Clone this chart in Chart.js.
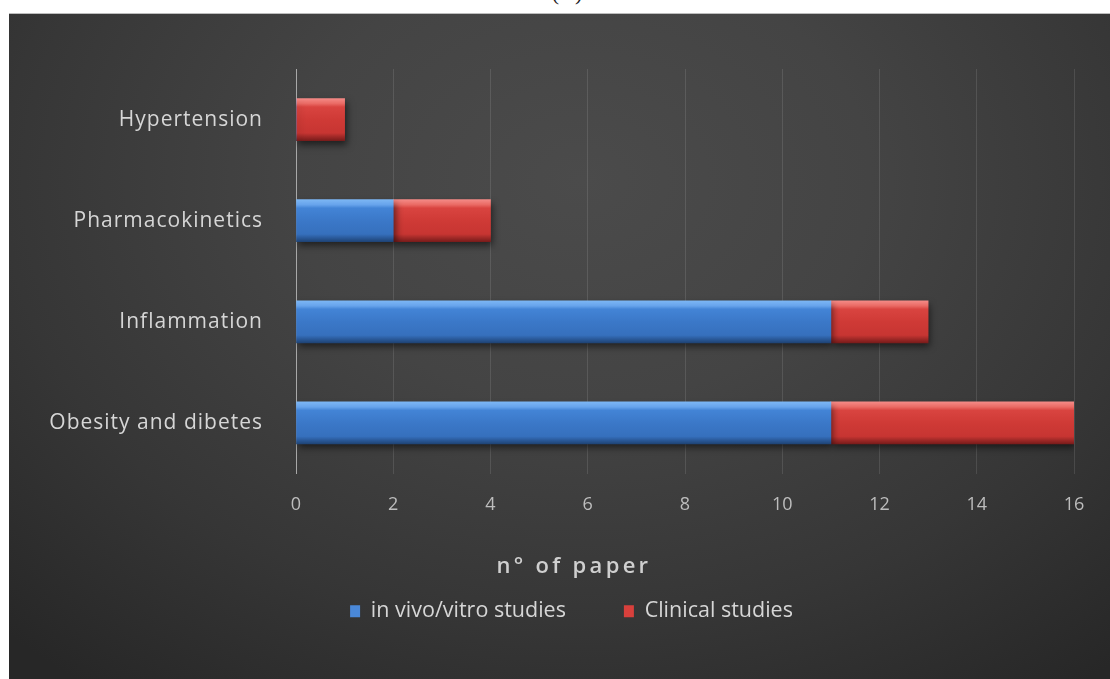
<!DOCTYPE html>
<html>
<head>
<meta charset="utf-8">
<script src="https://cdn.jsdelivr.net/npm/chart.js@4.4.1/dist/chart.umd.min.js"></script>
<style>
  html, body { margin: 0; padding: 0; background: #ffffff; }
  body { width: 1110px; height: 679px; position: relative; overflow: hidden; }
  #tag {
    position: absolute; left: 545px; top: -18px; width: 44px; text-align: center;
    font-family: "Liberation Serif", serif; font-size: 22px; line-height: 22px; color: #222;
  }
  #panel {
    position: absolute; left: 9px; top: 13px; width: 1101px; height: 666px;
    border-top: 1px solid #bdbdbd; box-sizing: border-box;
    background: radial-gradient(ellipse 75% 95% at 52% 25%, #4b4b4b 0%, #444444 35%, #363636 70%, #272727 100%);
  }
  #chart { position: absolute; left: 0; top: 0; }
</style>
</head>
<body>
<div id="tag">(A)</div>
<div id="panel"><canvas id="chart" width="1101" height="665"></canvas></div>
<script>
// Topics, top to bottom
const categories = ["Hypertension", "Pharmacokinetics", "Inflammation", "Obesity and dibetes"];
// Number of papers per topic
const inVivoVitro = [0, 2, 11, 11];
const clinical = [1, 2, 2, 5];
const xTicks = { min: 0, max: 16, step: 2 };
const seriesNames = ["in vivo/vitro studies", "Clinical studies"];
const swatchColors = ['#4a88d8', '#d8403c'];

const BAR_THICKNESS = 42;

// Bevelled fill: light top edge, flat body, dark bottom edge
function bevel(flat, stops) {
  return function (ctx) {
    const chart = ctx.chart;
    if (ctx.type !== 'data' || !chart.chartArea || !chart.scales.y) return flat;
    const yc = chart.scales.y.getPixelForValue(ctx.dataIndex);
    const top = yc - BAR_THICKNESS / 2, bottom = yc + BAR_THICKNESS / 2;
    const g = chart.ctx.createLinearGradient(0, top, 0, bottom);
    stops.forEach(s => g.addColorStop(s[0], s[1]));
    return g;
  };
}

const blueFill = bevel(swatchColors[0], [
  [0, '#7cb6f4'], [0.12, '#67a4ec'], [0.2, '#4384d6'], [0.5, '#3b78c8'],
  [0.82, '#3670bd'], [0.9, '#2b5c9e'], [1, '#1f4476']
]);
const redFill = bevel(swatchColors[1], [
  [0, '#f48a86'], [0.12, '#ea6a64'], [0.2, '#d94440'], [0.5, '#cf3a36'],
  [0.82, '#c73532'], [0.9, '#a32a28'], [1, '#7a1c1b']
]);

// Soft drop shadow under the bars
const barShadow = {
  id: 'barShadow',
  beforeDatasetsDraw(chart) {
    const c = chart.ctx;
    c.save();
    c.shadowColor = 'rgba(0,0,0,0.55)';
    c.shadowBlur = 7;
    c.shadowOffsetX = 2;
    c.shadowOffsetY = 4;
  },
  afterDatasetsDraw(chart) { chart.ctx.restore(); }
};

// Wraps a drawing method with letter spacing and an offset
function wrapDraw(obj, name, spacing, dx, dy) {
  const orig = obj[name].bind(obj);
  obj[name] = function (...args) {
    const c = obj.ctx;
    c.save();
    c.letterSpacing = spacing;
    c.translate(dx, dy);
    orig(...args);
    c.restore();
  };
}

const textTweaks = {
  id: 'textTweaks',
  afterLayout(chart) {
    if (chart._textTweaked) return;
    wrapDraw(chart.scales.x, 'drawTitle', '3.3px', -111, 0);
    wrapDraw(chart.scales.x, 'drawLabels', '0px', 0, 3);
    wrapDraw(chart.scales.y, 'drawLabels', '1px', 0, 0);
    wrapDraw(chart.legend, 'draw', '0px', 30, -37);
    chart._textTweaked = true;
  }
};

const labelColor = '#d6d6d6';

new Chart(document.getElementById('chart'), {
  type: 'bar',
  data: {
    labels: categories,
    datasets: [
      { label: seriesNames[0], data: inVivoVitro, backgroundColor: blueFill, borderWidth: 0, barThickness: BAR_THICKNESS },
      { label: seriesNames[1], data: clinical, backgroundColor: redFill, borderWidth: 0, barThickness: BAR_THICKNESS }
    ]
  },
  options: {
    indexAxis: 'y',
    responsive: false,
    animation: false,
    devicePixelRatio: 1,
    layout: { padding: { left: 0, right: 36, top: 55, bottom: 10 } },
    scales: {
      x: {
        stacked: true,
        min: xTicks.min,
        max: xTicks.max,
        ticks: { stepSize: xTicks.step, color: '#bdbdbd', font: { family: 'Open Sans', size: 18 }, padding: 18 },
        grid: { color: 'rgba(255,255,255,0.11)', lineWidth: 1, drawTicks: false },
        border: { display: false },
        title: {
          display: true, text: 'n° of paper', color: '#cfcfcf',
          font: { family: 'Open Sans', size: 22, weight: '600' },
          padding: { top: 22, bottom: 0 }
        }
      },
      y: {
        stacked: true,
        ticks: { color: labelColor, font: { family: 'Open Sans', size: 21 }, padding: 33 },
        grid: { display: false, drawTicks: false },
        border: { display: true, color: '#a8a8a8', width: 1 },
        afterFit(scale) { scale.width = 287; }
      }
    },
    plugins: {
      legend: {
        position: 'bottom',
        labels: {
          color: labelColor,
          font: { family: 'Open Sans', size: 21.5 },
          boxWidth: 10, boxHeight: 12, padding: 58,
          generateLabels(chart) {
            const items = Chart.defaults.plugins.legend.labels.generateLabels(chart);
            items.forEach((it, i) => { it.fillStyle = swatchColors[i]; it.strokeStyle = swatchColors[i]; it.lineWidth = 0; });
            return items;
          }
        }
      },
      tooltip: { enabled: false }
    }
  },
  plugins: [barShadow, textTweaks]
});
</script>
</body>
</html>
